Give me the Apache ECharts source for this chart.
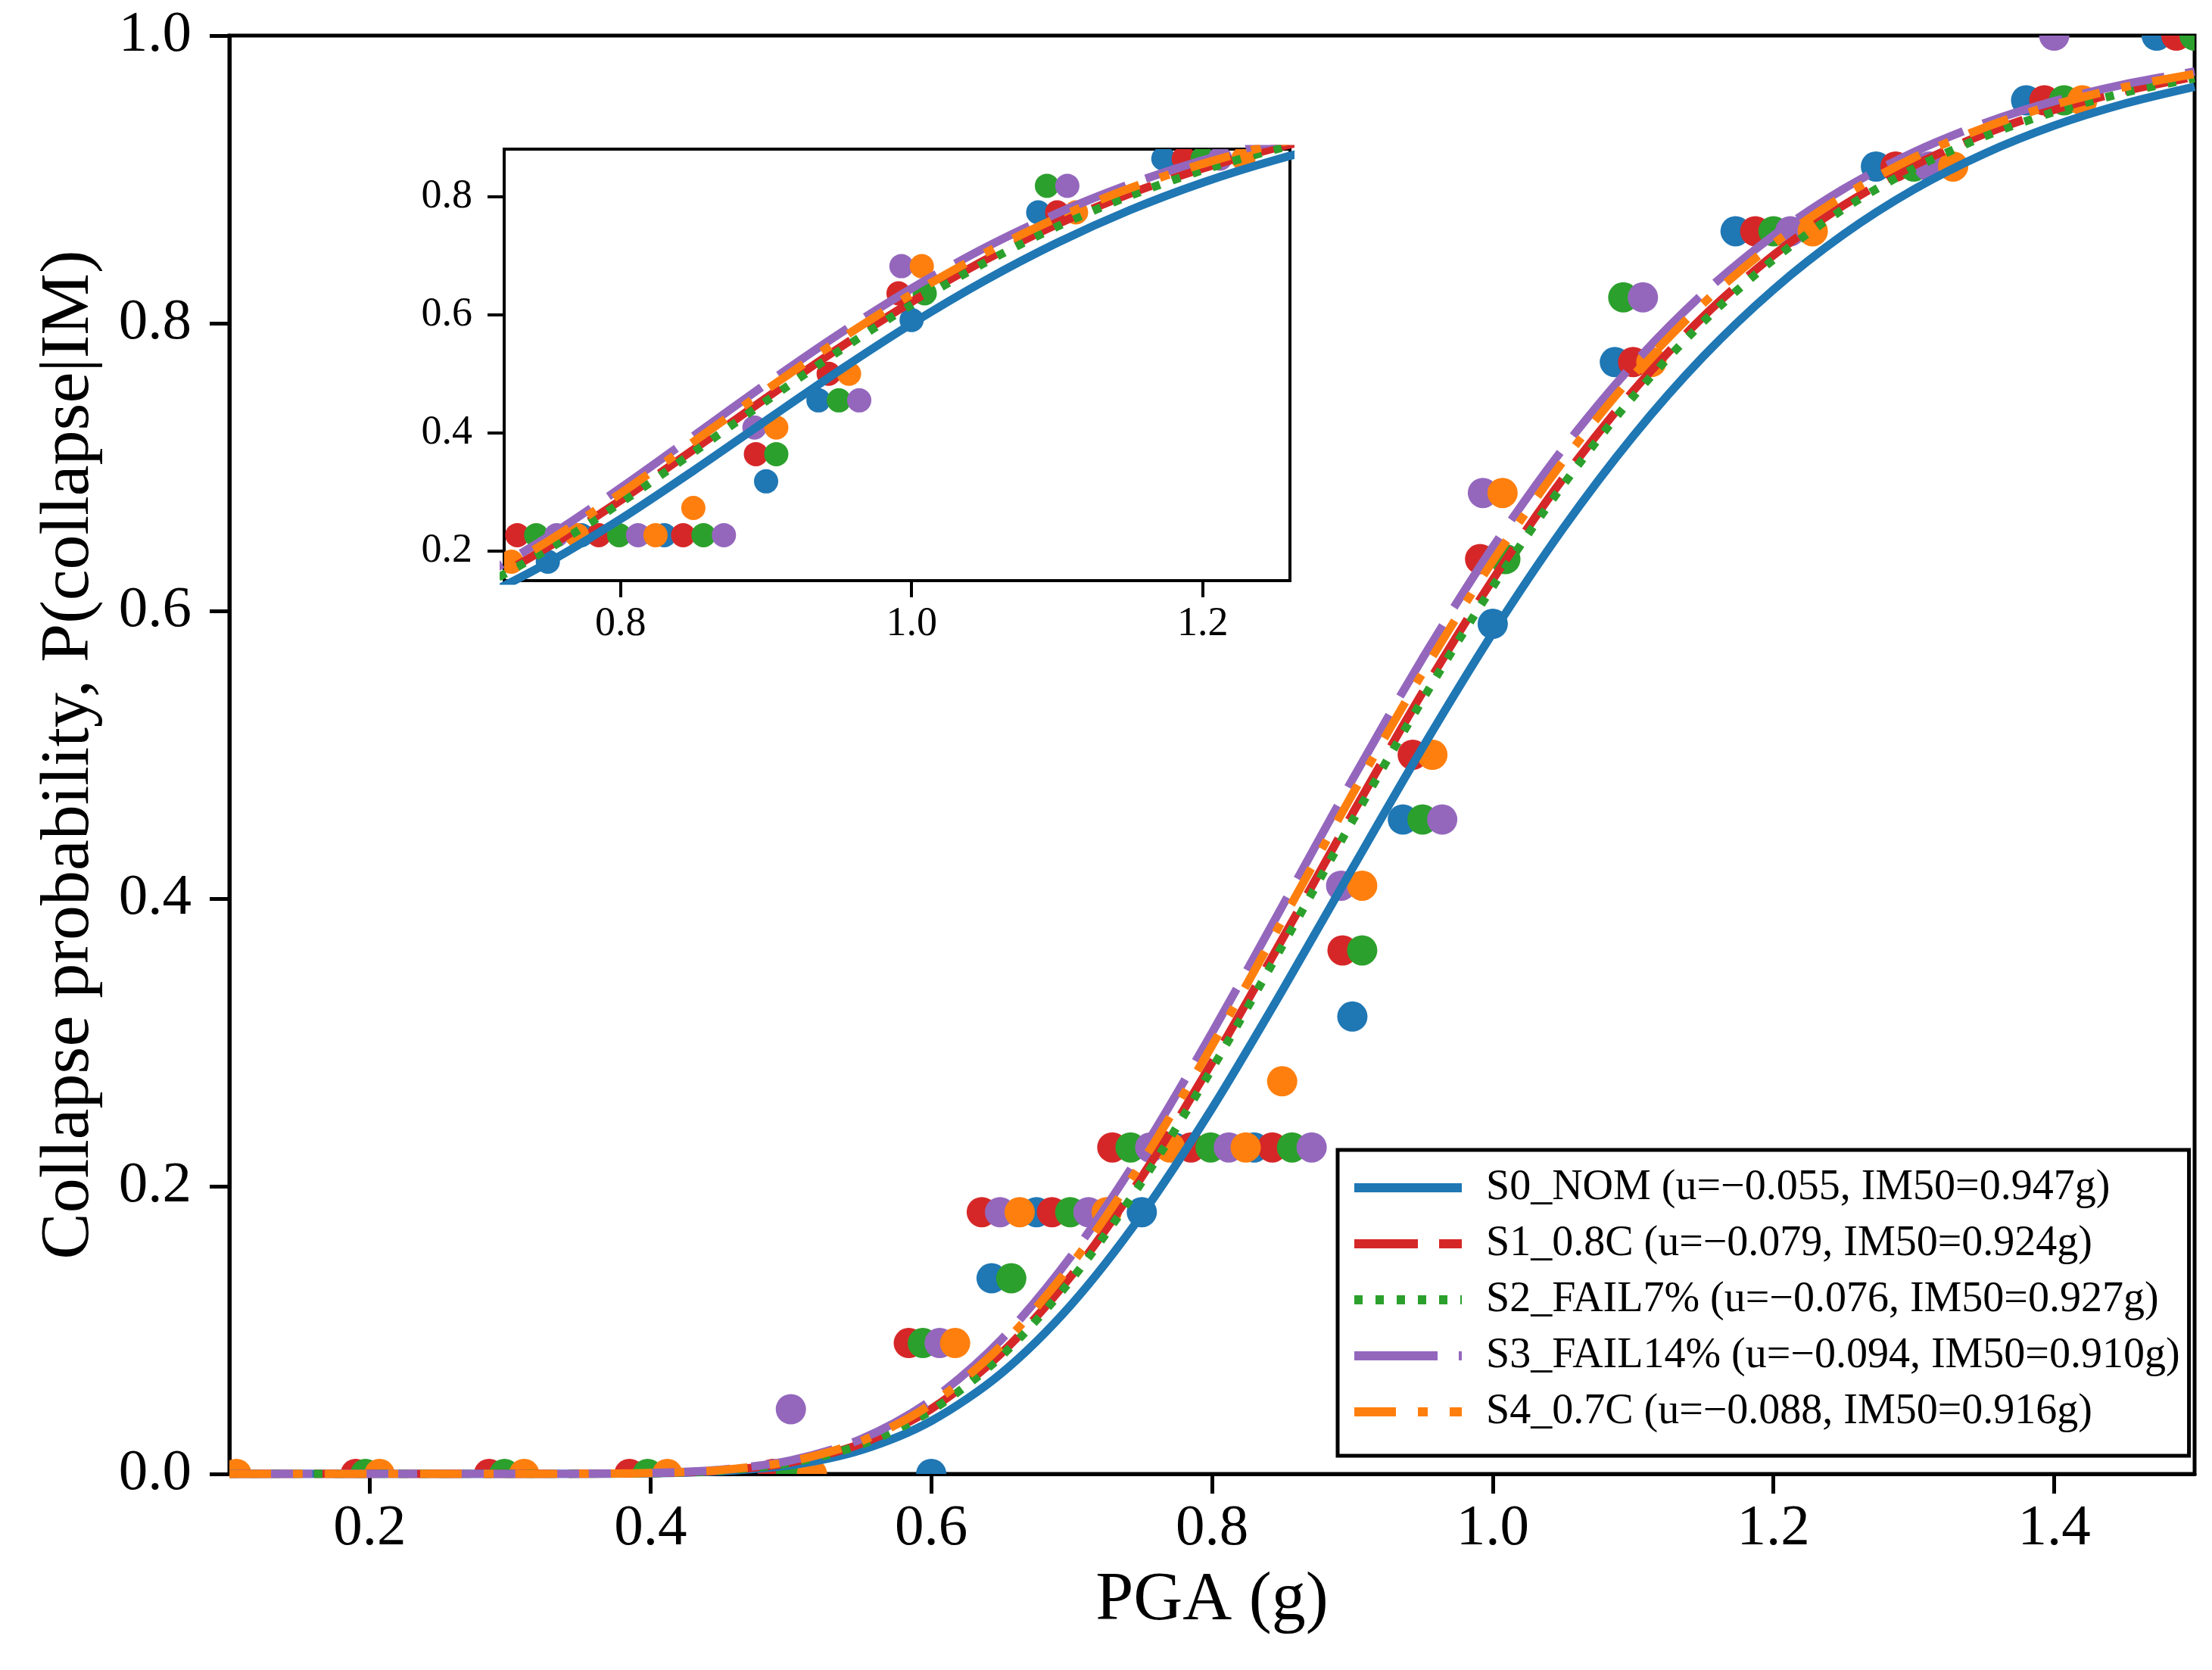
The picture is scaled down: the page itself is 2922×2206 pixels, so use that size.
<!DOCTYPE html>
<html>
<head>
<meta charset="utf-8">
<script src="https://cdn.jsdelivr.net/npm/echarts@6/dist/echarts.min.js"></script>
<style>
  html, body { margin: 0; padding: 0; background: #fff; }
  #fragility { width: 2922px; height: 2206px; }
</style>
</head>
<body>
<div id="fragility"></div>
<script>
// fitted fragility curves, sampled every 0.05 g
const pga = [0.10, 0.15, 0.20, 0.25, 0.30, 0.35, 0.40, 0.45, 0.50, 0.55, 0.60, 0.65, 0.70, 0.75,
  0.80, 0.85, 0.90, 0.95, 1.00, 1.05, 1.10, 1.15, 1.20, 1.25, 1.30, 1.35, 1.40, 1.45, 1.50];
const s0Curve = [0, 0, 0, 0, 0, 0.0000, 0.0004, 0.0018, 0.0061, 0.0166, 0.0368, 0.0700, 0.1180, 0.1802,
  0.2541, 0.3359, 0.4209, 0.5049, 0.5846, 0.6572, 0.7215, 0.7769, 0.8234, 0.8618, 0.8930, 0.9178, 0.9374, 0.9526, 0.9644];
const s1Curve = [0, 0, 0, 0, 0, 0.0001, 0.0005, 0.0024, 0.0080, 0.0210, 0.0452, 0.0839, 0.1381, 0.2066,
  0.2860, 0.3717, 0.4589, 0.5433, 0.6217, 0.6919, 0.7529, 0.8046, 0.8473, 0.8820, 0.9097, 0.9315, 0.9484, 0.9614, 0.9713];
const s2Curve = [0, 0, 0, 0, 0, 0.0001, 0.0005, 0.0023, 0.0077, 0.0203, 0.0440, 0.0820, 0.1353, 0.2030,
  0.2817, 0.3669, 0.4539, 0.5383, 0.6169, 0.6874, 0.7489, 0.8010, 0.8443, 0.8795, 0.9076, 0.9298, 0.9470, 0.9603, 0.9704];
const s3Curve = [0, 0, 0, 0, 0, 0.0001, 0.0006, 0.0029, 0.0094, 0.0242, 0.0512, 0.0935, 0.1518, 0.2241,
  0.3067, 0.3945, 0.4827, 0.5670, 0.6443, 0.7127, 0.7714, 0.8207, 0.8610, 0.8934, 0.9190, 0.9390, 0.9544, 0.9661, 0.9750];
const s4Curve = [0, 0, 0, 0, 0, 0.0001, 0.0006, 0.0027, 0.0088, 0.0227, 0.0486, 0.0893, 0.1458, 0.2165,
  0.2977, 0.3846, 0.4725, 0.5568, 0.6346, 0.7038, 0.7636, 0.8138, 0.8552, 0.8886, 0.9151, 0.9359, 0.9519, 0.9642, 0.9734];

// observed collapse fractions [pga, fraction], points slightly offset where they overlap
const s0Points = [[0.6, 0], [0.643, 0.136], [0.675, 0.182], [0.75, 0.182], [0.773, 0.227], [0.83, 0.227],
  [0.9, 0.318], [0.936, 0.455], [1.0, 0.591], [1.087, 0.773], [1.173, 0.864], [1.273, 0.909], [1.38, 0.955], [1.473, 1.0]];
const s1Points = [[0.19, 0], [0.285, 0], [0.385, 0], [0.487, 0], [0.584, 0.091], [0.636, 0.182], [0.686, 0.182],
  [0.729, 0.227], [0.785, 0.227], [0.843, 0.227], [0.893, 0.364], [0.943, 0.5], [0.991, 0.636], [1.1, 0.773],
  [1.187, 0.864], [1.287, 0.909], [1.393, 0.955], [1.487, 1.0]];
const s2Points = [[0.197, 0], [0.296, 0], [0.398, 0], [0.5, 0], [0.594, 0.091], [0.657, 0.136], [0.699, 0.182],
  [0.742, 0.227], [0.799, 0.227], [0.857, 0.227], [0.907, 0.364], [0.95, 0.455], [1.009, 0.636], [1.093, 0.818],
  [1.2, 0.864], [1.3, 0.909], [1.407, 0.955], [1.5, 1.0]];
const s3Points = [[0.5, 0.045], [0.606, 0.091], [0.649, 0.182], [0.712, 0.182], [0.756, 0.227], [0.812, 0.227],
  [0.871, 0.227], [0.892, 0.409], [0.964, 0.455], [0.993, 0.682], [1.107, 0.818], [1.212, 0.864], [1.311, 0.909], [1.4, 1.0]];
const s4Points = [[0.105, 0], [0.207, 0], [0.31, 0], [0.412, 0], [0.515, 0], [0.617, 0.091], [0.663, 0.182],
  [0.725, 0.182], [0.77, 0.227], [0.824, 0.227], [0.85, 0.273], [0.907, 0.409], [0.957, 0.5], [1.007, 0.682],
  [1.113, 0.773], [1.228, 0.864], [1.328, 0.909], [1.42, 0.955]];

const seriesNames = [
  'S0_NOM (u=\u22120.055, IM50=0.947g)',
  'S1_0.8C (u=\u22120.079, IM50=0.924g)',
  'S2_FAIL7% (u=\u22120.076, IM50=0.927g)',
  'S3_FAIL14% (u=\u22120.094, IM50=0.910g)',
  'S4_0.7C (u=\u22120.088, IM50=0.916g)'
];
const mainTicksX = [0.2, 0.4, 0.6, 0.8, 1.0, 1.2, 1.4];
const insetTicksX = [0.8, 1.0, 1.2];
const insetTicksY = [0.2, 0.4, 0.6, 0.8];

const curves = [s0Curve, s1Curve, s2Curve, s3Curve, s4Curve];
const points = [s0Points, s1Points, s2Points, s3Points, s4Points];
const colors = ['#1f77b4', '#d62728', '#2ca02c', '#9467bd', '#ff7f0e'];
const dashes = ['solid', [84, 28], [11, 17], [110, 28], [55, 29, 13, 29]];
const FONT = 'Liberation Serif';

const chart = echarts.init(document.getElementById('fragility'));

function dotSeries(data, color, r, idx) {
  return {
    type: 'custom',
    xAxisIndex: idx,
    yAxisIndex: idx,
    clip: true,
    silent: true,
    data: data,
    renderItem: function (params, api) {
      const c = api.coord([api.value(0), api.value(1)]);
      return { type: 'circle', shape: { cx: c[0], cy: c[1], r: r }, style: { fill: color } };
    }
  };
}

function curveSeries(i, idx) {
  return {
    name: seriesNames[i],
    type: 'line',
    xAxisIndex: idx,
    yAxisIndex: idx,
    data: pga.map((x, k) => [x, curves[i][k]]),
    symbol: 'none',
    showSymbol: false,
    smooth: 0.3,
    clip: true,
    silent: true,
    itemStyle: { color: colors[i] },
    lineStyle: { color: colors[i], width: 11, type: dashes[i], cap: 'butt' }
  };
}

function axisCommon(fontSize, tickLen, lineW) {
  return {
    axisLine: { show: true, onZero: false, lineStyle: { color: '#000', width: lineW } },
    axisTick: { show: true, inside: false, length: tickLen, lineStyle: { color: '#000', width: lineW } },
    splitLine: { show: false },
    axisLabel: { color: '#000', fontFamily: FONT, fontSize: fontSize, formatter: v => v.toFixed(1) }
  };
}

const series = [];
for (let g = 0; g < 2; g++) {
  for (let i = 0; i < 5; i++) series.push(dotSeries(points[i], colors[i], g === 0 ? 20 : 16, g));
  for (let i = 0; i < 5; i++) series.push(curveSeries(i, g));
}

const mx = axisCommon(77, 26, 5);
const my = axisCommon(77, 26, 5);
const ix = axisCommon(54, 22, 4);
const iy = axisCommon(54, 22, 4);

const option = {
  animation: false,
  backgroundColor: '#fff',
  grid: [
    { left: 303, top: 47, width: 2596, height: 1900, show: true, borderColor: '#000', borderWidth: 5, backgroundColor: 'transparent' },
    { left: 666, top: 197, width: 1038, height: 570, show: true, borderColor: '#000', borderWidth: 4, backgroundColor: '#fff' }
  ],
  xAxis: [
    Object.assign({}, mx, {
      type: 'value', gridIndex: 0, min: 0.1, max: 1.5,
      name: 'PGA (g)', nameLocation: 'middle', nameGap: 123,
      nameTextStyle: { fontFamily: FONT, fontSize: 90, color: '#000' },
      axisTick: Object.assign({}, mx.axisTick, { customValues: mainTicksX }),
      axisLabel: Object.assign({}, mx.axisLabel, { margin: 34, customValues: mainTicksX })
    }),
    Object.assign({}, ix, {
      type: 'value', gridIndex: 1, min: 0.72, max: 1.26,
      axisTick: Object.assign({}, ix.axisTick, { customValues: insetTicksX }),
      axisLabel: Object.assign({}, ix.axisLabel, { margin: 31, customValues: insetTicksX })
    })
  ],
  yAxis: [
    Object.assign({}, my, {
      type: 'value', gridIndex: 0, min: 0, max: 1, interval: 0.2,
      name: 'Collapse probability, P(collapse|IM)', nameLocation: 'middle', nameGap: 165,
      nameTextStyle: { fontFamily: FONT, fontSize: 92, color: '#000' },
      axisLabel: Object.assign({}, my.axisLabel, { margin: 50 })
    }),
    Object.assign({}, iy, {
      type: 'value', gridIndex: 1, min: 0.15, max: 0.88,
      axisTick: Object.assign({}, iy.axisTick, { customValues: insetTicksY }),
      axisLabel: Object.assign({}, iy.axisLabel, { margin: 42, customValues: insetTicksY })
    })
  ],
  legend: {
    data: seriesNames,
    orient: 'vertical',
    left: 1767,
    top: 1519,
    padding: [18, 12, 26, 16],
    itemGap: 10,
    itemWidth: 142,
    itemHeight: 20,
    selectedMode: false,
    backgroundColor: '#fff',
    borderColor: '#000',
    borderWidth: 5,
    borderRadius: 0,
    itemStyle: { opacity: 0 },
    lineStyle: { width: 12, type: 'inherit', color: 'inherit', cap: 'butt' },
    textStyle: { fontFamily: FONT, fontSize: 56, color: '#000', lineHeight: 64, padding: [0, 0, 0, 27] }
  },
  series: series
};

chart.setOption(option);
</script>
</body>
</html>
